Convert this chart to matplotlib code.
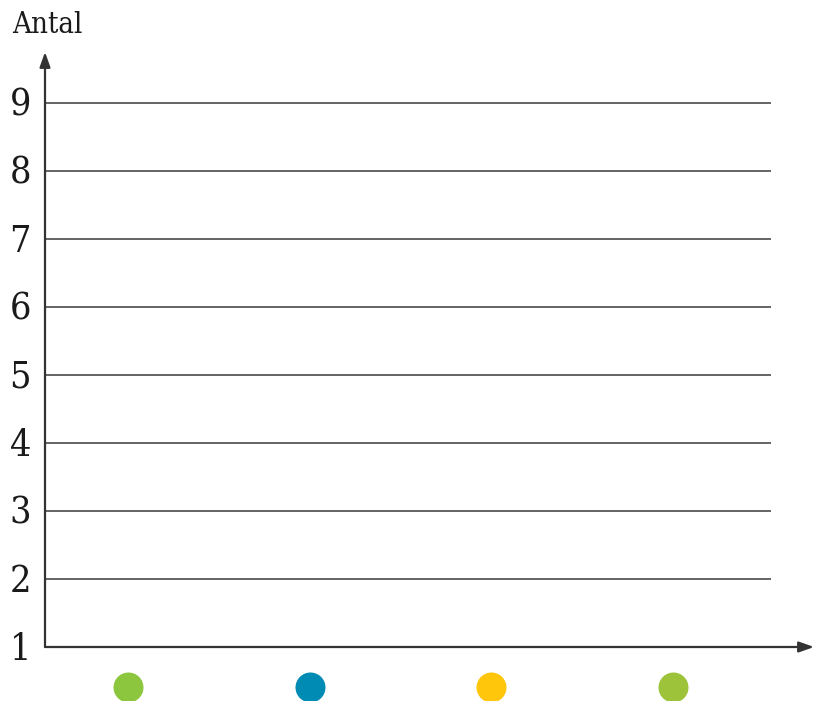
import matplotlib
matplotlib.use("Agg")
import matplotlib.pyplot as plt

categories = ["A", "B", "C", "D"]
category_colors = ["#8cc63f", "#008bb5", "#ffc60b", "#9dc33b"]
y_ticks = [1, 2, 3, 4, 5, 6, 7, 8, 9]
y_label = "Antal"

W, H = 814, 701
fig = plt.figure(figsize=(W / 100, H / 100), dpi=100)

left_px, right_px = 45, 814
bottom_px, top_px = 647, 52
ax = fig.add_axes([left_px / W, (H - bottom_px) / H,
                   (right_px - left_px) / W, (bottom_px - top_px) / H])
step = 181.5
x0_px = 128
xmin = (left_px - x0_px) / step
xmax = (right_px - x0_px) / step
ymax = 1 + (bottom_px - top_px) / 68.0
ax.set_xlim(xmin, xmax)
ax.set_ylim(1, ymax)
for s in ax.spines.values():
    s.set_visible(False)
ax.set_xticks([])
ax.set_yticks([])
ax.patch.set_alpha(0)

grid_end = (771 - x0_px) / step
for v in y_ticks[1:]:
    ax.plot([xmin, grid_end], [v, v], color="#3a3a3a", lw=1.1, solid_capstyle="butt")

# axes with arrows
ax.annotate("", xy=(xmin, ymax), xytext=(xmin, 1), xycoords="data",
            arrowprops=dict(arrowstyle="-|>,head_length=0.9,head_width=0.32",
                            color="#333333", lw=1.6, shrinkA=0, shrinkB=0),
            annotation_clip=False)
ax.annotate("", xy=(xmax, 1), xytext=(xmin, 1), xycoords="data",
            arrowprops=dict(arrowstyle="-|>,head_length=0.9,head_width=0.32",
                            color="#333333", lw=1.6, shrinkA=0, shrinkB=0),
            annotation_clip=False)

font = dict(family="DejaVu Serif", fontstretch="condensed", color="#1a1a1a")
for v in y_ticks:
    ax.text(xmin - 14 / step, v - 3 / 68.0, str(v), ha="right", va="center",
            fontsize=27, **font)

fig.text(12 / W, (H - 25) / H, y_label, ha="left", va="center", fontsize=21, **font)

for i, (c, col) in enumerate(zip(categories, category_colors)):
    ax.plot(i, 1 - 40 / 68.0, "o", ms=21.6, color=col, mec="none", clip_on=False)

fig.savefig("out.png", dpi=100)
